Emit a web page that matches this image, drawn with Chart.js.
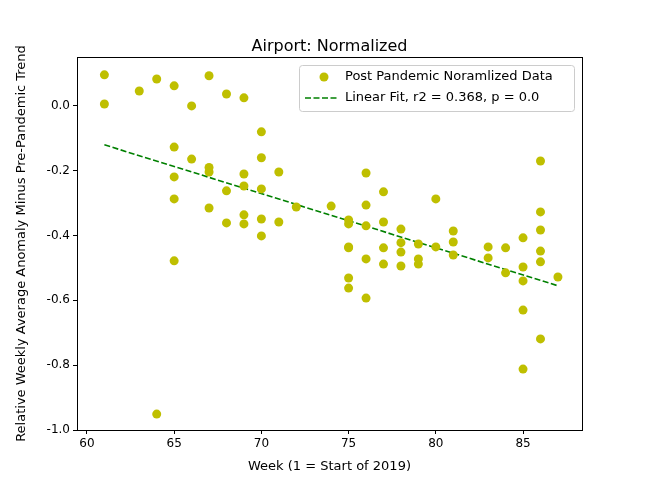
<!DOCTYPE html>
<html>
<head>
<meta charset="utf-8">
<script src="https://cdn.jsdelivr.net/npm/chart.js@4/dist/chart.umd.min.js"></script>
<style>
  html, body { margin: 0; padding: 0; background: #fff; }
  #wrap { width: 645px; height: 484px; }
</style>
</head>
<body>
<div id="wrap"><canvas id="chart"></canvas></div>
<script>
// Post pandemic normalized data
const weeks = [
    61, 61, 63, 64, 64,
    65, 65, 65, 65, 65,
    66, 66, 67, 67, 67, 67,
    68, 68, 68, 69, 69, 69, 69, 69,
    70, 70, 70, 70, 70, 71, 71, 72, 74,
    75, 75, 75, 75, 75, 75,
    76, 76, 76, 76, 76,
    77, 77, 77, 77, 78, 78, 78, 78,
    79, 79, 79, 80, 80, 81, 81, 81,
    83, 83, 84, 84,
    85, 85, 85, 85, 85,
    86, 86, 86, 86, 86, 86, 87,
];
const anomalies = [
    0.096, 0.006, 0.046, 0.083, -0.951,
    0.062, -0.127, -0.219, -0.287, -0.478,
    0.0, -0.164, 0.093, -0.190, -0.204, -0.315,
    0.037, -0.262, -0.361, 0.025, -0.21, -0.247, -0.336, -0.364,
    -0.08, -0.16, -0.256, -0.349, -0.401, -0.204, -0.358, -0.312, -0.309,
    -0.352, -0.364, -0.435, -0.438, -0.531, -0.562,
    -0.207, -0.306, -0.37, -0.472, -0.593,
    -0.265, -0.358, -0.438, -0.488, -0.38, -0.422, -0.451, -0.494,
    -0.426, -0.472, -0.488, -0.287, -0.435, -0.386, -0.420, -0.46,
    -0.435, -0.469, -0.438, -0.515,
    -0.407, -0.497, -0.54, -0.63, -0.812,
    -0.17, -0.327, -0.383, -0.448, -0.481, -0.719, -0.528,
];
const fitWeeks = [61, 87];
const fitValues = [-0.12, -0.555];
const xTicks = [60, 65, 70, 75, 80, 85];
const yTicks = [-1.0, -0.8, -0.6, -0.4, -0.2, 0.0];

const FONT = 'DejaVu Sans';
const pointColor = '#bfbf00';
const fitColor = '#008000';

// matplotlib-style frame, titles and in-axes legend
const decorations = {
    id: 'decorations',
    afterDraw(chart) {
        const { ctx, chartArea: a } = chart;
        ctx.save();
        ctx.strokeStyle = '#000';
        ctx.lineWidth = 1;
        ctx.strokeRect(Math.round(a.left) + 0.5, Math.round(a.top) + 0.5,
            Math.round(a.right - a.left), Math.round(a.bottom - a.top));

        ctx.fillStyle = '#000';
        ctx.font = `16px "${FONT}"`;
        ctx.textAlign = 'center';
        ctx.textBaseline = 'alphabetic';
        ctx.fillText('Airport: Normalized', (a.left + a.right) / 2, 51);

        ctx.font = `13px "${FONT}"`;
        ctx.textBaseline = 'middle';
        ctx.fillText('Week (1 = Start of 2019)', (a.left + a.right) / 2, 467);
        ctx.save();
        ctx.translate(22, (a.top + a.bottom) / 2);
        ctx.rotate(-Math.PI / 2);
        ctx.fillText('Relative Weekly Average Anomaly Minus Pre-Pandemic Trend', 0, 0);
        ctx.restore();

        const bx = 299, by = 65, bw = 275, bh = 46;
        ctx.fillStyle = 'rgba(255,255,255,0.8)';
        ctx.strokeStyle = '#cccccc';
        ctx.beginPath();
        ctx.roundRect(bx + 0.5, by + 0.5, bw, bh, 3);
        ctx.fill();
        ctx.stroke();

        ctx.fillStyle = pointColor;
        ctx.beginPath();
        ctx.arc(bx + 25, by + 12, 4.5, 0, Math.PI * 2);
        ctx.fill();

        ctx.strokeStyle = fitColor;
        ctx.lineWidth = 1.6;
        ctx.setLineDash([6, 2.5]);
        ctx.beginPath();
        ctx.moveTo(bx + 6, by + 33);
        ctx.lineTo(bx + 40, by + 33);
        ctx.stroke();
        ctx.setLineDash([]);

        ctx.fillStyle = '#000';
        ctx.font = `13px "${FONT}"`;
        ctx.textAlign = 'left';
        ctx.fillText('Post Pandemic Noramlized Data', bx + 46, by + 12);
        ctx.fillText('Linear Fit, r2 = 0.368, p = 0.0', bx + 46, by + 33);
        ctx.restore();
    },
};

const tickStyle = {
    color: '#000',
    font: { family: FONT, size: 12 },
    padding: 3,
};

new Chart(document.getElementById('chart'), {
    type: 'scatter',
    data: {
        datasets: [
            {
                data: weeks.map((w, i) => ({ x: w, y: anomalies[i] })),
                backgroundColor: pointColor,
                borderWidth: 0,
                pointRadius: 4.5,
            },
            {
                type: 'line',
                data: fitWeeks.map((w, i) => ({ x: w, y: fitValues[i] })),
                borderColor: fitColor,
                borderWidth: 1.6,
                borderDash: [6, 2.5],
                pointRadius: 0,
                fill: false,
            },
        ],
    },
    options: {
        responsive: true,
        maintainAspectRatio: false,
        animation: false,
        layout: { padding: { top: 57, right: 63, left: 0, bottom: 0 } },
        plugins: {
            legend: { display: false },
            tooltip: { enabled: false },
        },
        scales: {
            x: {
                type: 'linear',
                min: 59.43,
                max: 88.38,
                afterBuildTicks: s => { s.ticks = xTicks.map(v => ({ value: v })); },
                afterFit: s => { s.height = 54; },
                grid: { drawOnChartArea: false, tickLength: 4, color: '#000' },
                border: { color: '#000', width: 1 },
                ticks: tickStyle,
            },
            y: {
                min: -1.0,
                max: 0.151,
                afterBuildTicks: s => { s.ticks = yTicks.map(v => ({ value: v })); },
                afterFit: s => { s.width = 77; },
                grid: { drawOnChartArea: false, tickLength: 4, color: '#000' },
                border: { color: '#000', width: 1 },
                ticks: { ...tickStyle, callback: v => v.toFixed(1) },
            },
        },
    },
    plugins: [decorations],
});
</script>
</body>
</html>
